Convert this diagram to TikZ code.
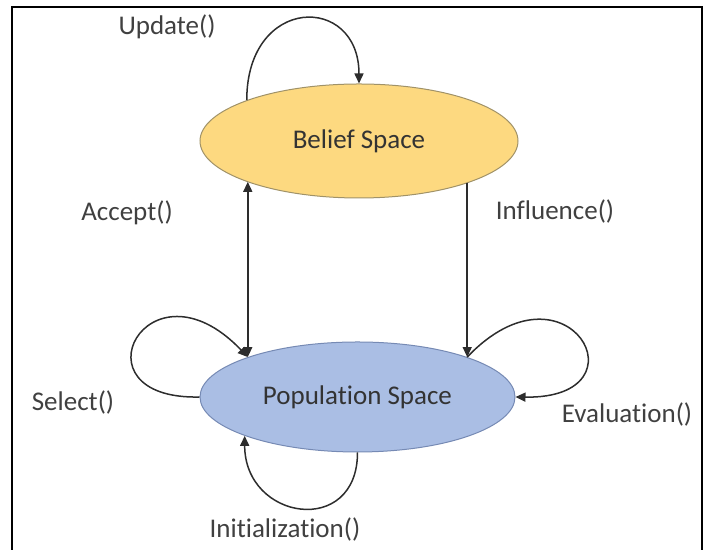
\documentclass[tikz,border=0pt]{standalone}
\usepackage{fontspec}
\setmainfont{Carlito}[Ligatures=NoCommon]
\usepackage{tikz}
\usetikzlibrary{shapes,arrows.meta,positioning}
\definecolor{beliefyellow}{RGB}{253,217,128}
\definecolor{beliefline}{RGB}{160,146,104}
\definecolor{popblue}{RGB}{170,190,228}
\definecolor{popline}{RGB}{118,138,180}
\definecolor{labelgray}{RGB}{64,64,64}

\begin{document}
\begin{tikzpicture}[x=0.5pt,y=0.5pt,
            line width=0.75pt,
            >={Triangle[length=5pt,width=4.5pt]},
            space/.style = {ellipse,
                inner sep=0pt,
                line width=0.5pt,
                font=\fontsize{13.5}{16}\selectfont},
            func/.style = {text=labelgray,
                font=\fontsize{13.5}{16}\selectfont}]

        \useasboundingbox (0,0) rectangle (708,550);

        % Frame
        \draw[line width=1.2pt] (12,-10) rectangle (702,543);

        % Belief space
        \node[space, fill=beliefyellow, draw=beliefline, text=black!80,
            minimum width=159pt, minimum height=57pt] (belief) at (359,409) {Belief Space};

        % Population space
        \node[space, fill=popblue, draw=popline, text=black!80,
            minimum width=157.5pt, minimum height=55pt] (pop) at (357.5,153) {Population Space};

        % Function labels
        \node[func] (update) at (167,523) {Update()};
        \node[func] (accept) at (127,337) {Accept()};
        \node[func] (influence) at (555,338) {Influence()};
        \node[func] (select) at (73,147) {Select()};
        \node[func] (evaluation) at (627,135) {Evaluation()};
        \node[func] (init) at (285,20) {Initialization()};

        % Loops
        \draw[->, labelgray!70!black] (belief.160) .. controls +(0,105) and +(0,90) .. (belief.north);
        \draw[->, labelgray!70!black] (pop.west) .. controls +(-130,-3) and +(-100,105) .. (pop.160);
        \draw[->, labelgray!70!black] (pop.20) .. controls +(100,105) and +(135,-2) .. (pop.east);
        \draw[->, labelgray!70!black] (pop.south) .. controls +(0,-85) and +(0,-85) .. (pop.199.4);

        % Between the spaces
        \draw[<->, labelgray!70!black] (pop.160) -- (pop.160 |- belief.200);
        \draw[->, labelgray!70!black] (pop.20 |- belief.339) -- (pop.20);

\end{tikzpicture}
\end{document}
